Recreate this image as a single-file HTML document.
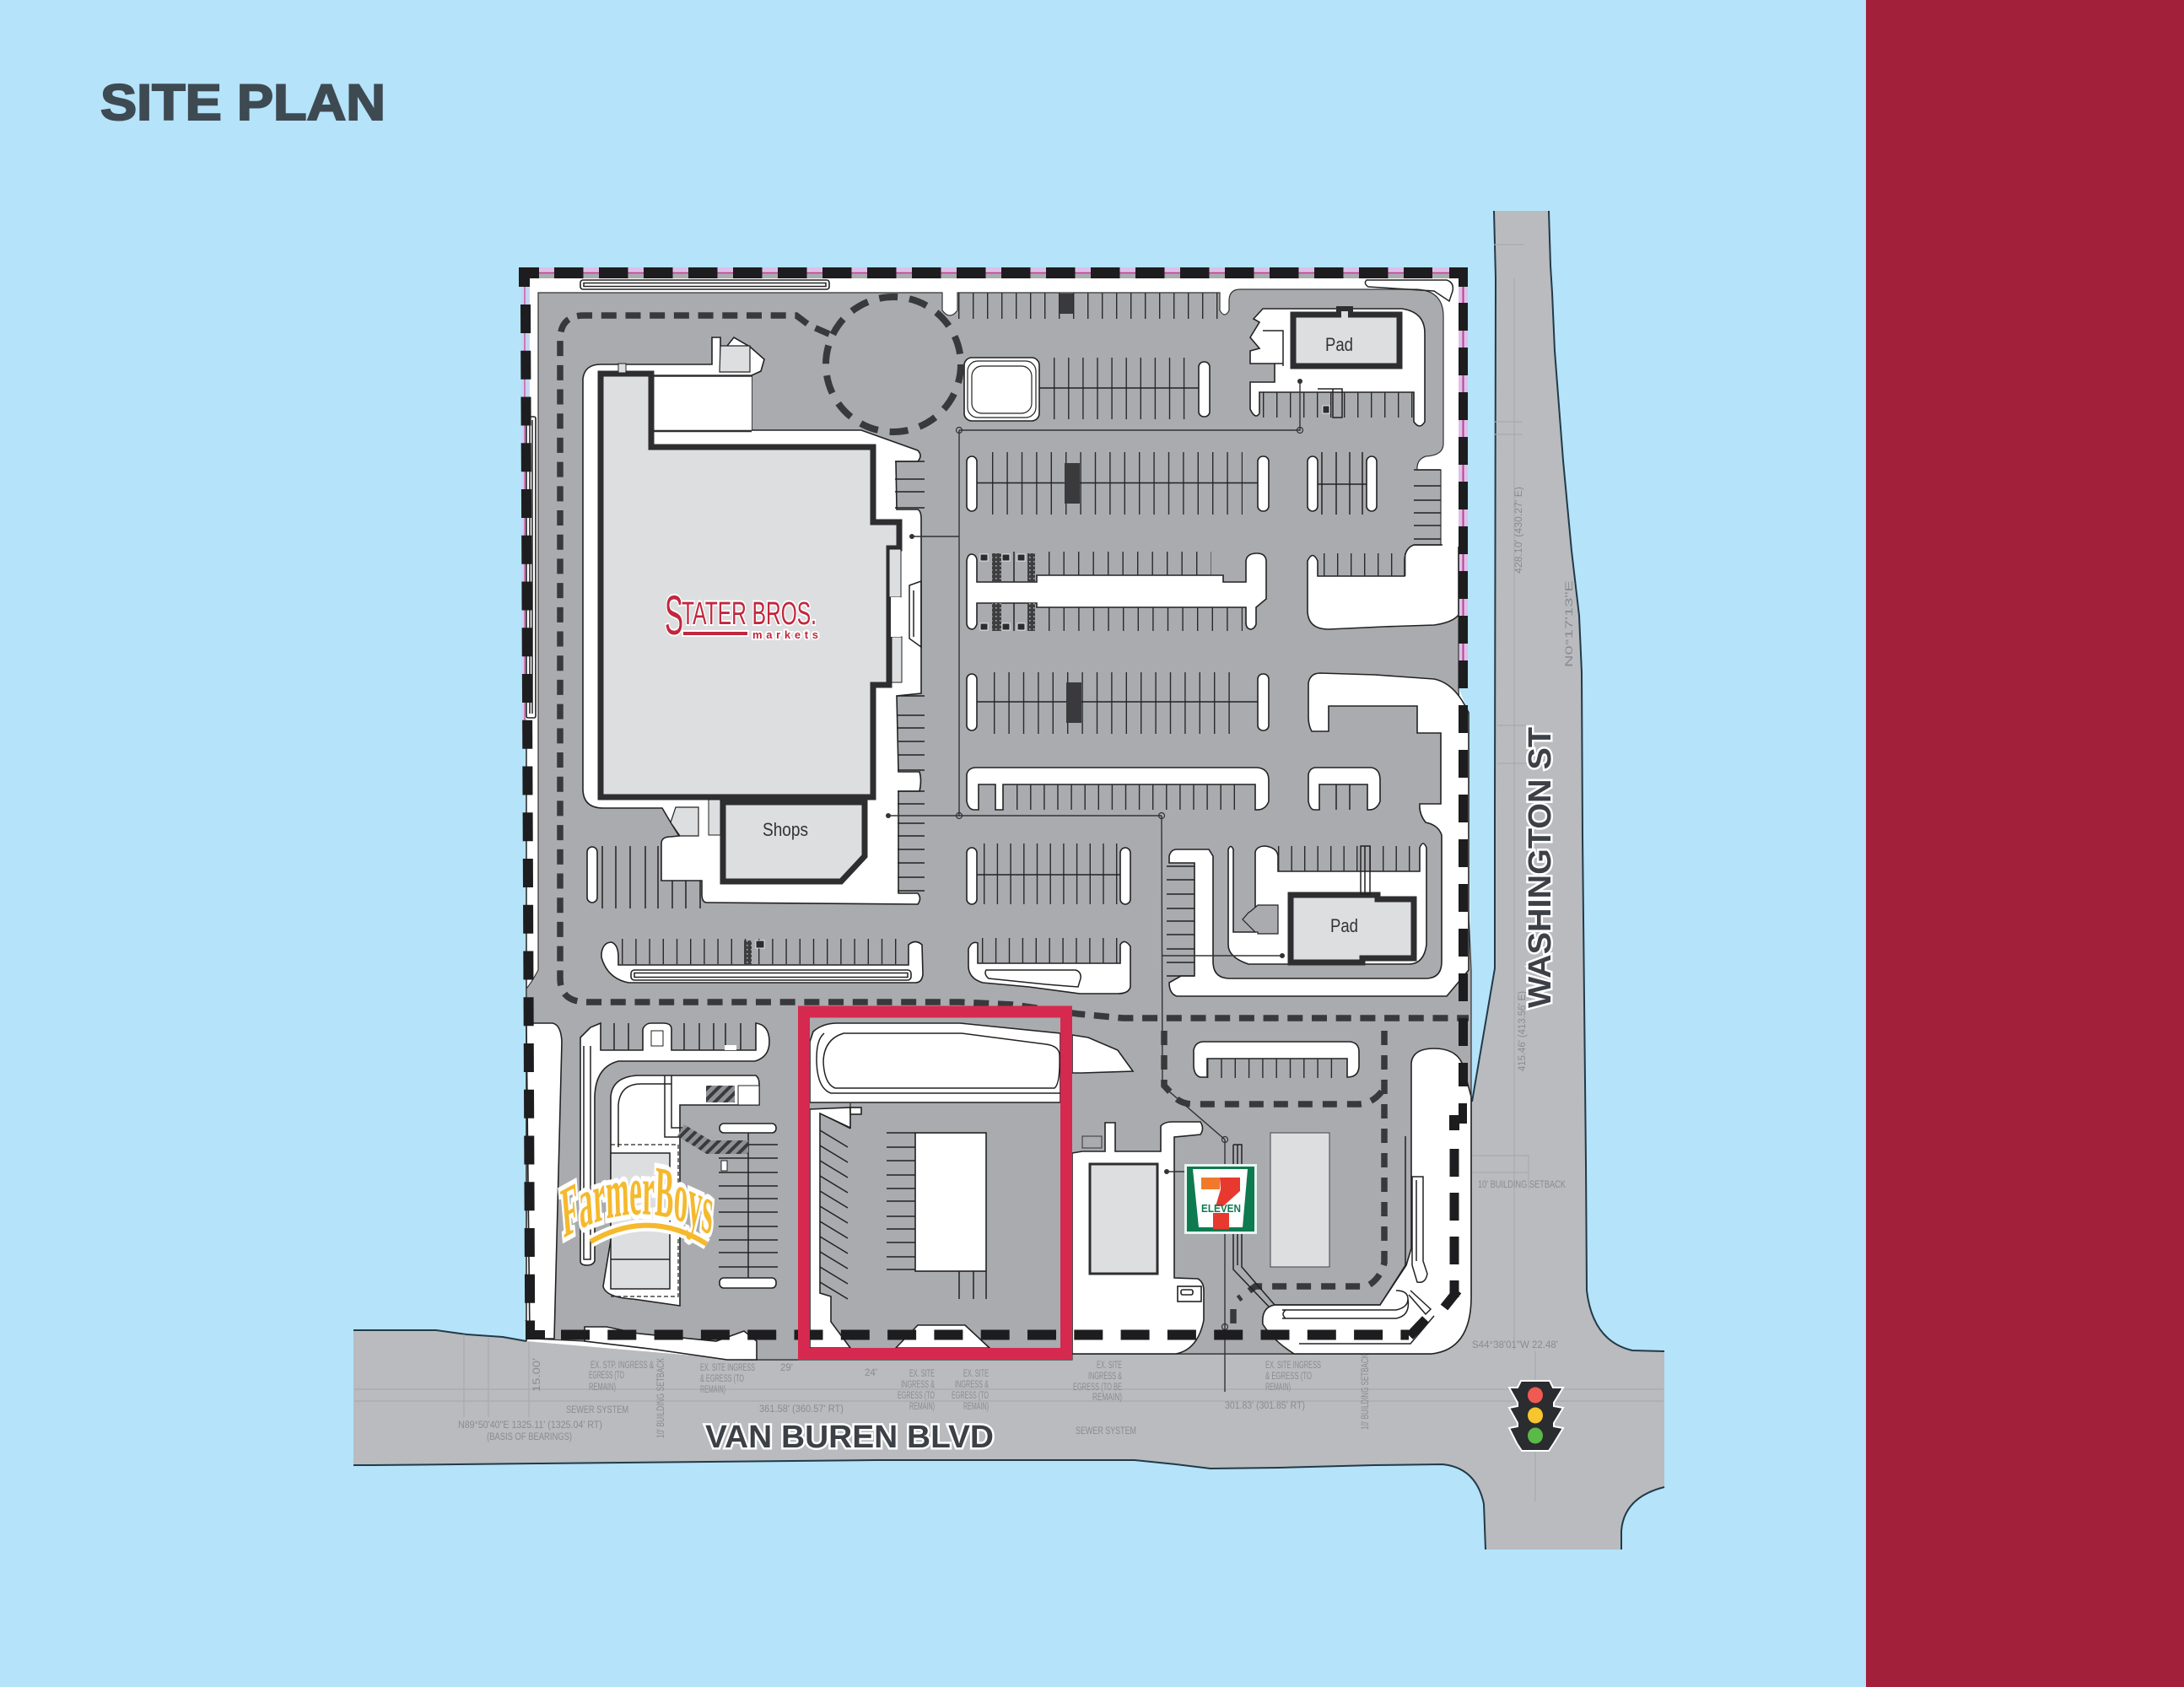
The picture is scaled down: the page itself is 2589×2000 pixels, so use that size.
<!DOCTYPE html>
<html lang="en"><head><meta charset="utf-8"><title>Site Plan</title>
<style>
html,body{margin:0;padding:0;background:#b5e3f9}
svg{display:block}
text{font-family:"Liberation Sans",sans-serif}
.w{fill:#fff;stroke:#222;stroke-width:1.6}
.t{fill:none;stroke:#222;stroke-width:1.5}
.s line{stroke:#2a2a2c}
.n text{fill:#888c92;font-size:11.5px}
.b{fill:#dcdee0;stroke:#2e2e30;stroke-width:7}
.d{fill:#3a3a3c}
</style></head><body>
<svg xmlns="http://www.w3.org/2000/svg" width="2589" height="2000" viewBox="0 0 2589 2000">
<defs>
<pattern id="h" width="9" height="9" patternUnits="userSpaceOnUse" patternTransform="rotate(45)"><rect width="9" height="9" fill="#8e9094"/><rect width="4" height="9" fill="#3a3a3c"/></pattern>
<pattern id="dp" width="5" height="5" patternUnits="userSpaceOnUse"><rect width="5" height="5" fill="#3e3e40"/><rect width="1.6" height="1.6" fill="#a9abaf"/></pattern>
</defs>
<rect width="2589" height="2000" fill="#b5e3f9"/>
<rect x="2212" width="377" height="2000" fill="#a3203b"/>
<text x="119" y="142" font-size="60" font-weight="700" fill="#3e4a52" stroke="#3e4a52" stroke-width="2" textLength="338" lengthAdjust="spacingAndGlyphs">SITE PLAN</text>

<!-- roads -->
<path fill="#b9bbbe" d="M1771 250L1836 250 1838 315 1840 347 1843 416 1853 546 1863 653 1872 730 1875 797 1876 992 1878 1186 1880 1380 1881 1530Q1888 1590 1935 1601L1973 1602 1973 1763Q1925 1775 1922 1815L1922 1837 1761 1837 1759 1783Q1750 1740 1710 1736L1629 1737 1516 1740 1435 1741 1394 1736 1345 1731 1038 1731 839 1733 640 1735 442 1737 419 1737 419 1577 517 1577 553 1582 596 1585 624 1590 1745 1306 1772 1148 1772 967 1773 330Z"/>
<path fill="none" stroke="#223a48" stroke-width="2" d="M1771 250L1773 330 1772 967 1772 1148 1745 1306M1836 250L1838 315 1840 347 1843 416 1853 546 1863 653 1872 730 1875 797 1876 992 1878 1186 1880 1380 1881 1530Q1888 1590 1935 1601L1973 1602M1973 1763Q1925 1775 1922 1815L1922 1837M1761 1837L1759 1783Q1750 1740 1710 1736L1629 1737 1516 1740 1435 1741 1394 1736 1345 1731 1038 1731 839 1733 640 1735 442 1737 419 1737M419 1577L517 1577 553 1582 596 1585 624 1590"/>
<path fill="none" stroke="#a8abaf" stroke-width="1.2" d="M420 1647H1972M420 1661H1972M550 1582V1680M579 1586V1680M627 1590V1680M1820 1602V1780M1795 330V1600M1745 1370H1812V1410M1745 1390H1812M1771 290H1806M1771 500H1805M1771 515H1805M1775 860H1810M1775 905H1810"/>
<g class="n">
<text x="543" y="1693" textLength="171" lengthAdjust="spacingAndGlyphs">N89°50'40"E 1325.11' (1325.04' RT)</text>
<text x="577" y="1707" textLength="101" lengthAdjust="spacingAndGlyphs">(BASIS OF BEARINGS)</text>
<text x="671" y="1675" textLength="74" lengthAdjust="spacingAndGlyphs">SEWER SYSTEM</text>
<text x="700" y="1622" textLength="75" lengthAdjust="spacingAndGlyphs">EX. STP. INGRESS &amp;</text>
<text x="698" y="1634" textLength="42" lengthAdjust="spacingAndGlyphs">EGRESS (TO</text>
<text x="698" y="1648" textLength="32" lengthAdjust="spacingAndGlyphs">REMAIN)</text>
<text x="830" y="1625" textLength="65" lengthAdjust="spacingAndGlyphs">EX. SITE INGRESS</text>
<text x="830" y="1638" textLength="52" lengthAdjust="spacingAndGlyphs">&amp; EGRESS (TO</text>
<text x="830" y="1651" textLength="30" lengthAdjust="spacingAndGlyphs">REMAIN)</text>
<text x="900" y="1674" textLength="100" lengthAdjust="spacingAndGlyphs">361.58' (360.57' RT)</text>
<text x="925" y="1625">29'</text><text x="1025" y="1631">24'</text>
<text x="1078" y="1632" textLength="30" lengthAdjust="spacingAndGlyphs">EX. SITE</text>
<text x="1068" y="1645" textLength="40" lengthAdjust="spacingAndGlyphs">INGRESS &amp;</text>
<text x="1064" y="1658" textLength="44" lengthAdjust="spacingAndGlyphs">EGRESS (TO</text>
<text x="1078" y="1671" textLength="30" lengthAdjust="spacingAndGlyphs">REMAIN)</text>
<text x="1142" y="1632" textLength="30" lengthAdjust="spacingAndGlyphs">EX. SITE</text>
<text x="1132" y="1645" textLength="40" lengthAdjust="spacingAndGlyphs">INGRESS &amp;</text>
<text x="1128" y="1658" textLength="44" lengthAdjust="spacingAndGlyphs">EGRESS (TO</text>
<text x="1142" y="1671" textLength="30" lengthAdjust="spacingAndGlyphs">REMAIN)</text>
<text x="1300" y="1622" textLength="30" lengthAdjust="spacingAndGlyphs">EX. SITE</text>
<text x="1290" y="1635" textLength="40" lengthAdjust="spacingAndGlyphs">INGRESS &amp;</text>
<text x="1272" y="1648" textLength="58" lengthAdjust="spacingAndGlyphs">EGRESS (TO BE</text>
<text x="1295" y="1660" textLength="35" lengthAdjust="spacingAndGlyphs">REMAIN)</text>
<text x="1275" y="1700" textLength="72" lengthAdjust="spacingAndGlyphs">SEWER SYSTEM</text>
<text x="1452" y="1670" textLength="95" lengthAdjust="spacingAndGlyphs">301.83' (301.85' RT)</text>
<text x="1500" y="1622" textLength="66" lengthAdjust="spacingAndGlyphs">EX. SITE INGRESS</text>
<text x="1500" y="1635" textLength="55" lengthAdjust="spacingAndGlyphs">&amp; EGRESS (TO</text>
<text x="1500" y="1648" textLength="30" lengthAdjust="spacingAndGlyphs">REMAIN)</text>
<text x="1745" y="1598" textLength="102" lengthAdjust="spacingAndGlyphs">S44°38'01"W 22.48'</text>
<text x="1752" y="1408" textLength="104" lengthAdjust="spacingAndGlyphs">10' BUILDING SETBACK</text>
<text transform="translate(1622 1695) rotate(-90)" textLength="90" lengthAdjust="spacingAndGlyphs">10' BUILDING SETBACK</text>
<text transform="translate(787 1705) rotate(-90)" textLength="95" lengthAdjust="spacingAndGlyphs">10' BUILDING SETBACK</text>
<text transform="translate(1804 680) rotate(-90)" textLength="103" lengthAdjust="spacingAndGlyphs">428.10' (430.27' E)</text>
<text transform="translate(1808 1270) rotate(-90)" textLength="95" lengthAdjust="spacingAndGlyphs">415.46' (413.56' E)</text>
<text transform="translate(1864 791) rotate(-90)" textLength="103" lengthAdjust="spacingAndGlyphs">N0°17'13"E</text>
<text transform="translate(640 1650) rotate(-90)" textLength="40" lengthAdjust="spacingAndGlyphs">15.00'</text>
</g>

<!-- boundary underlay -->
<rect x="639" y="317" width="1080" height="6.5" fill="#dcc0ea"/><rect x="639" y="323.5" width="1080" height="6.5" fill="#a9abaf"/>
<path d="M639 323.5H1719" stroke="#c0408c" stroke-width="1.6"/>
<rect x="1729" y="340" width="11" height="475" fill="#dcc0ea"/>
<path d="M1734.5 340V815M622 340V880" stroke="#c0408c" stroke-width="2"/>
<rect x="618" y="340" width="9" height="530" fill="#dcc0ea" opacity=".45"/>

<!-- site base white -->
<path fill="#fff" d="M628 330L1729 330 1729 815 1741 845 1744 1300 1744 1540Q1743 1600 1697 1605L1271 1605 1271 1612 880 1612 624 1590 624 850 628 500Z"/>
<path fill="none" stroke="#222" stroke-width="1.5" d="M624 860V1590M1743 1300V1540Q1743 1600 1697 1605L1271 1605M880 1612H946"/>
<!-- site grey -->
<path fill="#a9abaf" stroke="#333" stroke-width="1.2" d="M638 347L1117 347 1117 368Q1126 380 1135 368L1135 347 1446 347 1446 368Q1452 378 1457 368L1457 355Q1458 343 1470 343L1680 343Q1711 345 1711 375L1711 526Q1711 540 1690 541Q1679 545 1680 557L1708 557 1708 646 1729 646 1729 815 1744 1150 1744 1540Q1743 1600 1697 1605L1271 1605 1271 1612 862 1612 778 1600 693 1590 628 1587 624 1213 624 1172Q630 1165 638 1150Z"/>

<!-- white islands -->
<path class="w" d="M691 449Q693 432 712 432L844 432 844 400 854 400 854 420 870 400 889 411 906 426 902 440 891 445 891 510 1021 510 1088 534Q1094 540 1088 547L1062 547 1063 604 1088 604Q1092 606 1092 615L1092 822 1063 825 1065 915 1090 915Q1093 925 1090 938L1065 938 1065 1059 1088 1059Q1093 1065 1088 1072L838 1070Q832 1070 832 1060L832 1044 784 1044 784 1000Q784 992 795 992L805 991 795 975 785 958 715 958Q691 958 691 935Z"/>
<!-- top pills and edge pills -->
<rect class="w" x="688" y="332" width="295" height="11" rx="3" stroke-width="1.2"/>
<path class="t" d="M692 335.5H979V339.5H692Z" stroke-width="1"/>
<rect class="w" x="624" y="494" width="11" height="357" rx="2" stroke-width="1.2"/>
<path class="t" d="M628 498V846M631 498V846" stroke-width="1"/>
<path class="t" d="M1620 332H1715Q1724 335 1722 345L1718 357 1700 345 1622 340Q1616 336 1620 332Z" stroke-width="1.2"/>

<!-- parking islands row: island with pills -->
<g class="w" stroke-width="1.6">
<rect x="1146" y="541" width="12" height="65" rx="6"/><rect x="1491" y="541" width="13" height="65" rx="6"/>
<rect x="1550" y="541" width="12" height="65" rx="6"/><rect x="1620" y="541" width="12" height="65" rx="6"/>
<rect x="1421" y="429" width="13" height="65" rx="6"/>
<rect x="1146" y="799" width="12" height="67" rx="6"/><rect x="1491" y="799" width="13" height="67" rx="6"/>
<rect x="1146" y="1005" width="12" height="67" rx="6"/><rect x="1328" y="1005" width="12" height="67" rx="6"/>
<rect x="696" y="1004" width="12" height="66" rx="6"/>
<!-- row D -->
<path d="M1146 665Q1147 657 1152 657Q1158 658 1158 665L1158 690 1229 690 1229 682 1450 682 1450 690 1477 690 1477 665Q1478 656 1490 656Q1501 656 1501 666L1501 710 1489 720 1489 740Q1487 746 1482 746Q1477 745 1477 738L1477 720 1229 720 1229 715 1158 715 1158 740Q1156 746 1152 746Q1146 745 1146 738Z"/>
<!-- right block 1 -->
<path d="M1708 646L1676 646Q1665 650 1665 665L1665 683 1562 683 1562 665Q1556 652 1550 665L1550 725Q1551 746 1575 746L1640 743 1700 741Q1722 738 1729 729L1729 646Z"/>
<!-- row F -->
<path d="M1146 950L1146 918Q1148 910 1157 910L1490 910Q1504 911 1504 925L1504 950Q1500 961 1488 960L1488 930 1189 930 1189 960 1180 960 1180 930 1160 930 1160 960 1155 960Q1148 960 1146 950Z"/>
<path d="M1551 950L1551 918Q1553 910 1560 910L1625 910Q1636 911 1636 925L1636 950Q1632 961 1621 960L1621 930 1564 930 1564 960 1558 960Q1553 960 1551 950Z"/>
<!-- big right white -->
<path d="M1386 1015Q1388 1007 1395 1007L1433 1007 1438 1015 1438 1140Q1438 1160 1458 1160L1690 1160Q1709 1160 1709 1140L1709 990Q1705 978 1690 975Q1682 965 1683 953L1708 953 1708 869 1680 869 1680 837 1575 837 1575 867 1555 867Q1551 860 1551 850L1551 810Q1553 798 1565 798L1630 800 1700 805Q1725 810 1741 845L1741 1150 1715 1181 1395 1181Q1386 1178 1386 1165L1400 1157 1416 1157 1416 1023 1386 1023Z"/>
<!-- Pad 2 island -->
<path d="M1488 1010Q1490 1003 1500 1003Q1514 1005 1515 1015L1515 1033 1683 1033 1683 1005Q1687 995 1691 1005L1691 1120Q1688 1143 1670 1143L1480 1143Q1456 1135 1456 1120L1456 1007Q1459 1000 1462 1007L1462 1105 1488 1105Z"/>
<!-- Pad 1 island -->
<path d="M1497 366L1662 366Q1689 370 1689 395L1689 500Q1683 510 1676 500L1676 465 1493 465 1493 490Q1488 498 1482 485L1482 453 1511 453 1511 431 1482 431 1482 416 1493 413 1482 400 1493 382 1486 378Z"/>
<!-- row B island -->
<rect x="1143" y="424" width="89" height="75" rx="9"/>
<!-- lower left store island -->
<path d="M713 1130Q715 1117 725 1117Q733 1120 733 1135L733 1144 1077 1144 1077 1120Q1085 1113 1093 1120L1094 1155Q1093 1165 1085 1165L745 1165Q720 1160 713 1135Z"/>
<path d="M1148 1125Q1152 1115 1159 1118L1159 1142 1328 1142 1328 1120Q1333 1112 1340 1122L1340 1170Q1338 1178 1325 1178L1280 1178 1220 1170 1165 1165Q1148 1160 1148 1145Z"/>
<!-- bottom band loop island -->
<path d="M1415 1245Q1417 1235 1427 1235L1600 1235Q1611 1236 1611 1247L1611 1265Q1610 1277 1597 1277L1597 1255 1431 1255 1431 1277 1423 1277Q1415 1275 1415 1262Z"/>
<!-- left strip -->
<path d="M624 1213L655 1213Q665 1215 666 1235L657 1587 628 1587Z"/>
<!-- farmer -->
<path d="M688 1230L700 1218 712 1213 712 1245 762 1245 762 1220Q765 1213 772 1213L786 1213Q796 1213 796 1220L796 1245 896 1245 896 1213Q912 1215 912 1235Q912 1253 895 1258L733 1258Q706 1265 705 1300L705 1495Q703 1500 696 1500Q688 1500 688 1495Z"/>
<path d="M724 1300Q726 1277 755 1275L896 1275Q900 1278 900 1285L900 1310 806 1310 806 1548 750 1540Q718 1538 715 1525L724 1470Z"/>
<rect x="853" y="1332" width="67" height="11" rx="5"/><rect x="853" y="1515" width="67" height="12" rx="5"/>
<!-- bottom wedge -->
<path d="M693 1573L719 1573 757 1581 849 1590 882 1578 897 1590 897 1612 862 1612 778 1600 693 1590Z"/>
<!-- 7-eleven left white -->
<path d="M1271 1227L1290 1230 1325 1245 1343 1270 1283 1272 1271 1272Z"/>
<path d="M1271 1367L1283 1365 1310 1365 1310 1331 1322 1331 1322 1365 1376 1365 1376 1335Q1380 1330 1390 1330L1423 1330Q1428 1338 1423 1345L1392 1348 1392 1515 1420 1516Q1427 1520 1427 1530L1427 1565Q1420 1600 1394 1605L1271 1605Z"/>
<!-- right lower white -->
<path d="M1673 1260Q1675 1243 1700 1243Q1725 1243 1733 1260L1744 1300 1744 1540Q1743 1600 1697 1605L1534 1605Q1510 1590 1497 1570Q1495 1550 1511 1547L1636 1547 1667 1500 1673 1480Z"/>
</g>
<path d="M1710 646H1731" stroke="#fff" stroke-width="4"/>

<!-- parking stripes -->
<g class="s" fill="none" stroke-linecap="butt">
<line x1="1136" x2="1448" y1="362.5" y2="362.5" stroke-width="31" stroke-dasharray="1.4 15.6"/>
<line x1="1249" x2="1406" y1="460.5" y2="460.5" stroke-width="73" stroke-dasharray="1.4 15.7"/>
<line x1="1176" x2="1473" y1="573" y2="573" stroke-width="74" stroke-dasharray="1.4 16"/>
<line x1="1243" x2="1436" y1="668" y2="668" stroke-width="28" stroke-dasharray="1.4 16.1"/>
<line x1="1243" x2="1473" y1="734" y2="734" stroke-width="28" stroke-dasharray="1.4 16.2"/>
<line x1="1569" x2="1667" y1="669.5" y2="669.5" stroke-width="27" stroke-dasharray="1.4 14.6"/>
<line x1="1178" x2="1473" y1="833.5" y2="833.5" stroke-width="73" stroke-dasharray="1.4 16"/>
<line x1="1205" x2="1472" y1="945" y2="945" stroke-width="30" stroke-dasharray="1.4 14.7"/>
<line x1="1166" x2="1326" y1="1036" y2="1036" stroke-width="72" stroke-dasharray="1.4 14.3"/>
<line x1="1164" x2="1326" y1="1127" y2="1127" stroke-width="30" stroke-dasharray="1.4 14.5"/>
<line x1="737" x2="1075" y1="1128" y2="1128" stroke-width="30" stroke-dasharray="1.4 14.8"/>
<line x1="1497" x2="1678" y1="480" y2="480" stroke-width="30" stroke-dasharray="1.4 14.6"/>
<line x1="1515" x2="1685" y1="1018" y2="1018" stroke-width="30" stroke-dasharray="1.4 14.1"/>
<line x1="1431" x2="1582" y1="1266.5" y2="1266.5" stroke-width="23" stroke-dasharray="1.4 14.9"/>
</g>
<path class="t" d="M1567 536V610M1584 536V610M1600 536V610M1615 536V610M1584 930V960M1600 930V960M714 1003V1077M730 1003V1077M747 1003V1077M765 1003V1077M780 1003V1077M797 1044V1077M813 1044V1077M830 1044V1077M728 1213V1245M745 1213V1245M811 1213V1245M829 1213V1245M846 1213V1245M860 1213V1245M878 1213V1245M1202 654V690M1202 715V748"/>
<!-- center lines -->
<path class="t" d="M1232 460H1421M1158 572.5H1491M1562 574H1620M1158 832H1491M1158 1037H1328M887 1343V1515M1137 1507V1540M1154 1507V1540M1169 1507V1540"/>
<!-- horizontal stall stacks -->
<path class="t" d="M1061 547H1096M1061 568H1096M1061 583H1096M1061 602H1096M1064 825H1096M1064 848H1096M1064 863H1096M1064 879H1096M1064 895H1096M1064 913H1096M1064 938H1096M1064 953H1096M1064 976H1096M1064 991H1096M1064 1007H1096M1064 1023H1096M1064 1040H1096M1064 1056H1096M1676 557H1708M1676 576H1708M1676 593H1708M1676 608H1708M1676 623H1708M1676 639H1708M1676 646H1708M1383 1027H1416M1383 1043H1416M1383 1060H1416M1383 1077H1416M1383 1092H1416M1383 1108H1416M1383 1125H1416M1383 1141H1416M1383 1157H1416M852 1357H922M852 1373H922M852 1390H922M852 1406H922M852 1421H922M852 1437H922M852 1454H922M852 1470H922M852 1485H922M852 1502H922"/>

<!-- disabled stalls -->
<rect class="d" x="1256" y="348" width="16" height="24"/>
<rect class="d" x="1262" y="549" width="18" height="48"/>
<rect class="d" x="1264" y="809" width="18" height="48"/>
<g fill="url(#dp)"><rect x="1176" y="656" width="11" height="34"/><rect x="1218" y="656" width="9" height="34"/><rect x="1176" y="715" width="11" height="33"/><rect x="1218" y="715" width="9" height="33"/><rect x="882" y="1115" width="9" height="28"/></g>
<g fill="#2c2c2e" stroke="#fff" stroke-width=".8"><rect x="1162" y="657" width="9" height="8"/><rect x="1188" y="657" width="9" height="8"/><rect x="1206" y="657" width="9" height="8"/><rect x="1162" y="739" width="9" height="8"/><rect x="1188" y="739" width="9" height="8"/><rect x="1206" y="739" width="9" height="8"/><rect x="896" y="1115" width="10" height="9"/><rect x="1568" y="481" width="8" height="9"/></g>
<path class="t" d="M1562 461H1591V495H1580V461M1169 1150L1275 1150Q1282 1152 1281 1160L1278 1170 1240 1167 1172 1160Q1166 1155 1169 1150Z" stroke-width="1.2"/>
<rect class="w" x="748" y="1150" width="332" height="12" rx="4" stroke-width="1.2"/><path class="t" d="M752 1153.5H1076V1158.5H752Z" stroke-width="1"/>

<!-- round island double -->
<rect x="1147" y="428" width="81" height="67" rx="12" fill="none" stroke="#222" stroke-width="1.2"/>
<rect x="1152" y="434" width="71" height="56" rx="12" fill="none" stroke="#222" stroke-width="1.2"/>

<!-- main building -->
<rect x="775" y="445" width="116" height="67" fill="#fff"/>
<path d="M775 445.5H891M775 511H891" stroke="#2e2e30" stroke-width="2.6"/>
<path class="b" d="M712 443H772V530H1035V619H1066V650H1054V812H1035V945H712Z"/>
<rect x="1054" y="651" width="14" height="57" fill="#dcdee0" stroke="#222" stroke-width="1"/>
<rect x="1057" y="755" width="12" height="54" fill="#dcdee0" stroke="#222" stroke-width="1"/>
<rect x="1056" y="708" width="12" height="47" fill="#fff"/>
<path class="t" d="M1078 694L1092 689V767L1078 757ZM1083 700V755" stroke-width="1.1"/>
<path d="M854 410H889V441H853Z" fill="#dcdee0" stroke="#222" stroke-width="1.2"/>
<rect x="733" y="431" width="9" height="11" fill="#dcdee0" stroke="#222"/>

<!-- stater bros logo -->
<g font-weight="400" fill="#c2273d" stroke="#fff" stroke-width="4" paint-order="stroke">
<text x="788" y="752" font-size="66" textLength="22" lengthAdjust="spacingAndGlyphs">S</text>
<text x="808" y="740" font-size="38" textLength="160" lengthAdjust="spacingAndGlyphs">TATER BROS.</text>
<text x="892" y="757" font-size="13" font-weight="700" textLength="78" lengthAdjust="spacing">markets</text>
<rect x="810" y="749" width="76" height="4"/>
</g>

<!-- shops -->
<path class="b" d="M857 951H1025V1015L997 1045H857Z"/>
<rect x="840" y="948" width="14" height="42" fill="#dcdee0" stroke="#222" stroke-width="1"/>
<path d="M801 957H828V991H806L795 975Z" fill="#dcdee0" stroke="#222" stroke-width="1.2"/>
<text x="904" y="991" font-size="22" fill="#333" textLength="54" lengthAdjust="spacingAndGlyphs">Shops</text>

<!-- pad 1 -->
<rect x="1533" y="373" width="126" height="61" fill="#dcdee0" stroke="#2e2e30" stroke-width="7"/>
<rect x="1584" y="363" width="20" height="12" fill="#2e2e30"/><rect x="1590" y="369" width="8" height="10" fill="#dcdee0"/>
<text x="1571" y="416" font-size="22" fill="#333" textLength="33" lengthAdjust="spacingAndGlyphs">Pad</text>
<path class="t" d="M1497 392H1521V434M1511 431H1521" stroke-width="1.4"/>

<!-- pad 2 -->
<path class="b" d="M1530 1061H1633V1066H1676V1136H1615V1141H1530Z"/>
<text x="1577" y="1105" font-size="22" fill="#333" textLength="33" lengthAdjust="spacingAndGlyphs">Pad</text>
<path d="M1491 1073H1515V1107H1491V1105H1488L1473 1090 1480 1082 1483 1080Z" fill="#a9abaf" stroke="#222" stroke-width="1.2"/>
<path class="t" d="M1613 1003H1624V1060H1613ZM1618 1003V1060" stroke-width="1.1"/>

<!-- conductors -->
<path fill="none" stroke="#333" stroke-width="1.4" d="M1137 510V967M1137 510H1541V452M1081 636H1137M1053 967H1377M1377 967L1378 1287 1452 1351V1650M1377 1133H1520M1383 1389H1405"/>
<g fill="#333"><circle cx="1081" cy="636" r="3"/><circle cx="1053" cy="967" r="3"/><circle cx="1541" cy="452" r="3"/><circle cx="1520" cy="1133" r="3"/><circle cx="1383" cy="1389" r="3"/></g>
<g fill="none" stroke="#333" stroke-width="1.2"><circle cx="1137" cy="510" r="3.5"/><circle cx="1541" cy="510" r="3.5"/><circle cx="1137" cy="967" r="3.5"/><circle cx="1377" cy="967" r="3.5"/><circle cx="1452" cy="1351" r="3.5"/><circle cx="1452" cy="1573" r="3.5"/></g>

<!-- dashed loops -->
<g fill="none" stroke="#38393b" stroke-width="7.5">
<path stroke-dasharray="18 10.7" d="M983 396L960 386 944 374H692Q664 374 664 403V1160Q664 1188 696 1188H1138L1200 1191 1278 1202 1331 1207H1741"/>
<circle cx="1059" cy="432" r="80" stroke-dasharray="22 14" stroke-width="8"/>
<path stroke-dasharray="17 12" d="M1380 1222V1287L1392 1300Q1400 1309 1415 1309H1610Q1628 1309 1641 1290M1641 1222V1497Q1636 1517 1620 1525H1488L1468 1540M1462 1552V1573"/>
</g>

<!-- farmer building and parts -->
<rect x="724" y="1367" width="70" height="161" fill="#dcdee0" stroke="#222" stroke-width="1.5"/>
<path class="t" d="M724 1493H794"/>
<path d="M724 1357H804V1537H724" fill="none" stroke="#222" stroke-width="1.2" stroke-dasharray="5 3"/>
<path class="t" d="M788 1275V1348H806M796 1275V1337H812M733 1360V1310Q735 1285 760 1285H796M692 1240V1493H700V1240" stroke-width="1.2"/>
<rect x="837" y="1287" width="34" height="20" fill="url(#h)"/>
<rect x="875" y="1287" width="25" height="23" fill="#fff" stroke="#222" stroke-width="1"/>
<path d="M807 1340L840 1360H887" fill="none" stroke="url(#h)" stroke-width="16"/>
<rect x="859" y="1239" width="14" height="6" fill="#fff"/>
<rect x="855" y="1376" width="7" height="12" fill="#fff" stroke="#222"/>
<rect x="772" y="1222" width="14" height="18" fill="#fff" stroke="#222"/>

<!-- red lot contents -->
<rect x="960" y="1207" width="297" height="391" fill="#a9abaf"/>
<path class="w" d="M960 1307L960 1235 964 1223Q975 1213 993 1213L1138 1213 1257 1225V1307Z"/>
<path class="t" d="M977 1225Q968 1232 968 1255Q968 1290 985 1296L1257 1296M1140 1225H1000Q977 1232 976 1258Q977 1285 990 1290H1250Q1257 1285 1256 1250Q1255 1240 1240 1238L1140 1225" stroke-width="1.3"/>
<path class="w" d="M960 1315L1008 1313 1008 1337 972 1320 972 1533 985 1537 985 1567 1008 1598 960 1598Z"/>
<rect class="w" x="1008" y="1313" width="13" height="8" stroke-width="1"/>
<path d="M1008 1308V1338M972 1320L1008 1338" stroke="#222" stroke-width="1.2" fill="none"/>
<path class="t" d="M972 1340l33 20M972 1358l33 20M972 1376l33 20M972 1394l33 20M972 1412l33 20M972 1430l33 20M972 1448l33 20M972 1466l33 20M972 1484l33 20M972 1502l33 20M972 1520l33 20"/>
<rect class="w" x="1085" y="1343" width="84" height="164"/>
<path class="t" d="M1051 1343H1085M1051 1360H1085M1051 1376H1085M1051 1393H1085M1051 1409H1085M1051 1424H1085M1051 1442H1085M1051 1457H1085M1051 1473H1085M1051 1490H1085M1051 1505H1085M1137 1507V1540M1154 1507V1540M1169 1507V1540"/>
<path class="w" d="M1062 1598L1088 1571 1144 1571 1173 1598Z"/>

<!-- pad left & large building -->
<rect x="1292" y="1380" width="80" height="130" fill="#dcdee0" stroke="#2e2e30" stroke-width="3"/>
<rect x="1506" y="1343" width="70" height="159" fill="#dcdee0" stroke="#444" stroke-width="1"/>
<rect x="1283" y="1347" width="23" height="14" fill="#a9abaf" stroke="#333"/>
<rect class="w" x="1396" y="1525" width="28" height="18" stroke-width="1.4"/><rect class="w" x="1400" y="1529" width="14" height="6" rx="2" stroke-width="1"/>
<path class="t" d="M1462 1357H1472V1502L1511 1547M1462 1357V1505L1505 1550M1467 1357V1500" stroke-width="1.1"/>
<path class="t" d="M1666 1347V1500L1636 1547H1511M1520 1553H1655Q1669 1550 1669 1540Q1669 1530 1655 1530M1520 1563H1655Q1672 1560 1669 1540M1524 1553Q1518 1558 1524 1563M1674 1395H1687V1495L1692 1510Q1690 1522 1680 1520L1674 1500ZM1679 1399V1495M1672 1530L1696 1552 1690 1558 1670 1535" stroke-width="1.2"/>
<path class="t" d="M1540 1593H1672L1700 1560" stroke-width="1.2"/>

<!-- boundary -->
<g fill="none" stroke="#1d1d1f">
<line x1="657" y1="323.5" x2="1698" y2="323.5" stroke-width="13" stroke-dasharray="34.5 18.5"/>
<line x1="623" y1="361" x2="628.2" y2="1566" stroke-width="12" stroke-dasharray="34 20.75"/>
<line x1="1734.5" y1="359" x2="1734.5" y2="1288" stroke-width="11" stroke-dasharray="33 20"/>
<line x1="1724" y1="1362" x2="1724" y2="1538" stroke-width="11" stroke-dasharray="33 19"/>
<line x1="665" y1="1582.5" x2="1670" y2="1582.5" stroke-width="12" stroke-dasharray="34 21.3"/>
<line x1="1712" y1="1550" x2="1728" y2="1530" stroke-width="11"/>
<line x1="1671" y1="1584" x2="1690" y2="1564" stroke-width="11"/>
</g>
<g fill="#1d1d1f">
<path d="M615 317H639V330H628V340H615Z"/>
<path d="M1718 317H1740V340H1729V330H1718Z"/>
<path d="M623 1566H634V1577H646V1588H623Z"/>
<path d="M1729 1308H1739V1332H1730V1340H1718V1322H1729Z"/>
</g>

<!-- red box -->
<rect x="953" y="1199.5" width="311" height="405.5" fill="none" stroke="#d5294f" stroke-width="14"/>

<!-- 7-eleven logo -->
<rect x="1404" y="1380" width="86" height="83" fill="#e8f5ef"/>
<rect x="1407" y="1383" width="80" height="77" fill="#0e7a50"/>
<path d="M1414 1386H1479L1473 1455H1421Z" fill="#fff"/>
<rect x="1424" y="1396" width="22" height="14" fill="#f07a2a"/>
<path d="M1446 1396H1470V1412L1450 1430H1441L1447 1410Z" fill="#e8392f"/>
<rect x="1438" y="1438" width="19" height="19" fill="#e8392f"/>
<text x="1424" y="1437" font-size="13" font-weight="700" fill="#0e7a50" textLength="47" lengthAdjust="spacingAndGlyphs">ELEVEN</text>

<!-- farmer boys logo -->
<path d="M700 1472Q770 1432 838 1475" fill="none" stroke="#fff" stroke-width="14"/>
<g transform="translate(668 0) scale(.39 1)">
<path id="fb" d="M0 1468Q240 1410 470 1470L600 1505" fill="none"/>
<text font-size="85" font-weight="700" fill="#f5b92e" stroke="#fff" stroke-width="12" paint-order="stroke" style="font-family:'Liberation Serif',serif"><textPath href="#fb">FarmerBoys</textPath></text>
</g>
<path d="M700 1472Q770 1432 838 1475" fill="none" stroke="#f5b92e" stroke-width="6"/>

<!-- street labels -->
<text x="836" y="1716" font-size="38" font-weight="700" fill="#3c4147" stroke="#fff" stroke-width="5" paint-order="stroke" textLength="342" lengthAdjust="spacingAndGlyphs">VAN BUREN BLVD</text>
<text transform="translate(1838 1195) rotate(-90)" font-size="38" font-weight="700" fill="#3c4147" stroke="#fff" stroke-width="5" paint-order="stroke" textLength="333" lengthAdjust="spacingAndGlyphs">WASHINGTON ST</text>

<!-- traffic light -->
<path d="M1803 1637H1837L1841 1645 1853 1645 1842 1663 1842 1667 1853 1669 1842 1687 1842 1691 1853 1693 1842 1711 1836 1720H1804L1798 1711 1789 1693 1799 1691 1799 1687 1789 1669 1799 1667 1799 1663 1789 1645 1799 1645Z" fill="#2a2c30" stroke="#fff" stroke-width="2"/>
<ellipse cx="1820" cy="1654" rx="9" ry="9.5" fill="#ef5b52"/>
<ellipse cx="1820" cy="1678" rx="9" ry="9.5" fill="#f7c62f"/>
<ellipse cx="1820" cy="1702" rx="9" ry="9.5" fill="#5bb947"/>
</svg>
</body></html>
